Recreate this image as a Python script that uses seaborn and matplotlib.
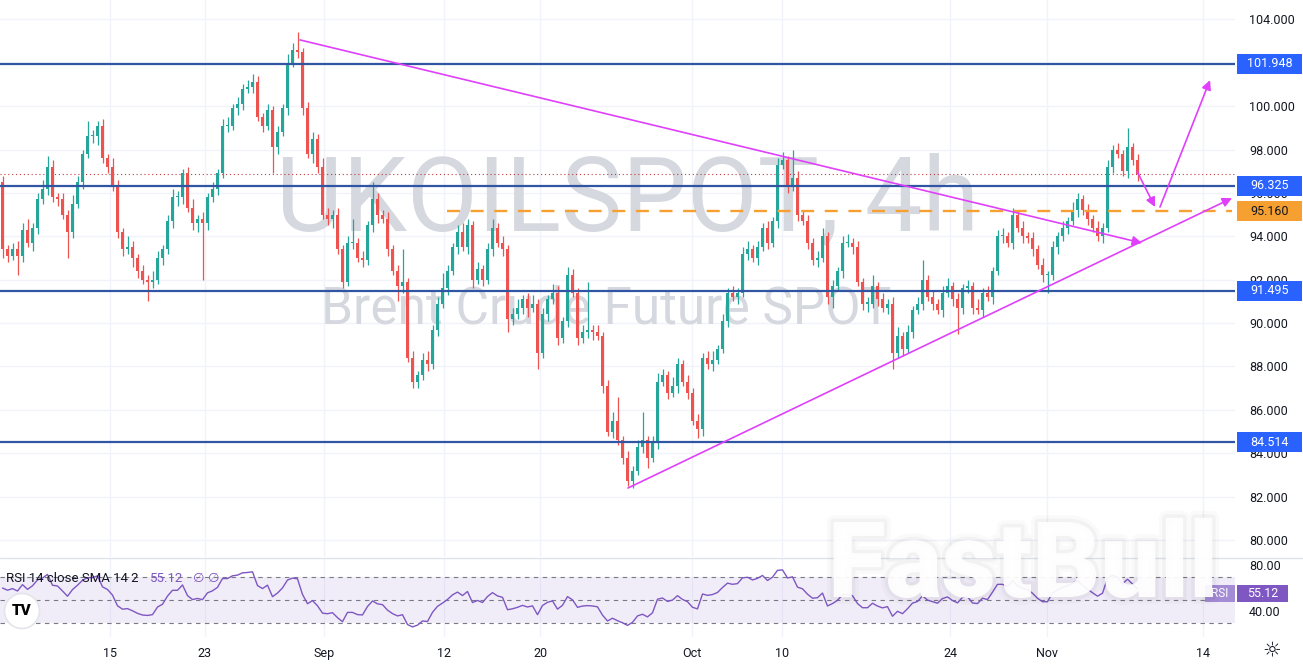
import matplotlib

matplotlib.use("Agg")
import matplotlib.patheffects as pe
import matplotlib.pyplot as plt
import numpy as np
import pandas as pd
import seaborn as sns
from matplotlib.lines import Line2D
from matplotlib.patches import Ellipse, Rectangle

FIG_W, FIG_H = 1303, 664

# --- datos (velas de ~4h, eje x = índice de vela) ---
first_open = 96.5
closes = [
    93.4, 93.1, 93.4, 93.1, 94.3, 93.7, 94.4, 95.7, 96.2, 97.2, 95.8, 95.7,
    95.0, 94.2, 95.5, 96.5, 97.8, 98.6, 98.6, 99.1, 97.6, 97.2, 96.3, 94.2,
    93.4, 93.5, 93.0, 92.4, 92.0, 91.9, 92.0, 93.0, 93.4, 94.7, 95.8, 95.8,
    96.9, 95.3, 94.6, 94.8, 94.6, 95.8, 96.2, 96.9, 99.1, 99.1, 99.9, 100.1,
    100.8, 100.9, 101.1, 99.5, 99.1, 99.8, 98.1, 98.8, 99.9, 102.0, 102.6, 102.5,
    99.9, 97.8, 98.5, 97.2, 95.0, 94.8, 95.0, 93.4, 91.9, 93.7, 93.7, 93.0,
    92.9, 94.5, 95.7, 95.0, 94.8, 93.4, 92.4, 91.7, 91.9, 88.4, 87.3, 87.6,
    88.3, 88.1, 89.7, 90.9, 91.6, 92.4, 93.5, 94.2, 93.5, 94.5, 92.0, 92.5,
    92.0, 93.4, 94.4, 93.7, 93.4, 90.2, 90.4, 90.7, 91.1, 90.7, 90.9, 88.6,
    90.4, 91.1, 91.4, 89.3, 90.1, 92.2, 91.4, 89.3, 89.6, 89.7, 89.6, 89.4,
    87.1, 85.0, 85.5, 84.6, 83.8, 82.7, 83.2, 84.3, 84.6, 83.8, 84.5, 87.3,
    87.6, 86.8, 87.1, 88.1, 87.3, 86.8, 85.5, 85.1, 88.4, 88.1, 88.3, 88.8,
    90.1, 91.4, 91.2, 91.4, 93.2, 93.4, 93.0, 93.5, 94.4, 93.7, 94.7, 97.3,
    97.5, 96.3, 96.7, 95.0, 94.7, 93.7, 92.9, 93.0, 94.0, 91.2, 91.7, 92.4,
    93.7, 93.7, 93.5, 91.9, 90.9, 90.9, 91.7, 91.1, 90.7, 90.9, 88.6, 89.4,
    88.8, 89.6, 90.6, 90.9, 92.0, 91.2, 90.9, 90.6, 91.4, 91.7, 91.1, 90.7,
    91.6, 91.7, 90.7, 90.6, 91.4, 91.2, 92.4, 94.0, 94.0, 93.7, 95.0, 94.4,
    94.0, 93.9, 93.4, 92.7, 92.2, 92.2, 93.5, 94.0, 94.4, 94.7, 95.2, 95.7,
    95.2, 94.8, 94.4, 94.0, 94.4, 97.2, 98.0, 97.8, 97.0, 98.1, 97.5, 96.85,
]
upper_wicks = [
    0.3, 0.2, 0.3, 0.4, 0.3, 0.5, 0.2, 0.3, 0.4, 0.5, 0.3, 0.2,
    0.3, 0.2, 0.4, 0.3, 0.2, 0.7, 0.3, 0.2, 0.3, 0.2, 0.4, 0.3,
    0.2, 0.5, 0.3, 0.2, 0.3, 0.2, 0.4, 0.3, 0.2, 0.3, 0.4, 0.3,
    0.2, 0.3, 0.4, 0.2, 0.3, 0.2, 0.3, 0.2, 0.3, 0.4, 0.2, 0.3,
    0.2, 0.3, 0.4, 0.3, 0.2, 0.3, 0.2, 0.3, 0.2, 0.4, 0.3, 0.8,
    0.2, 0.3, 0.3, 0.2, 0.4, 0.3, 0.2, 0.3, 0.2, 0.3, 1.1, 0.2,
    0.3, 0.2, 0.8, 0.3, 0.2, 0.3, 0.2, 0.3, 1.5, 0.2, 0.3, 0.2,
    0.3, 0.4, 0.2, 0.3, 0.7, 0.3, 0.2, 0.3, 0.4, 0.3, 0.2, 0.3,
    0.2, 0.3, 0.4, 0.2, 0.3, 0.2, 0.3, 0.4, 0.2, 0.3, 0.4, 0.2,
    0.3, 0.2, 0.4, 0.3, 0.2, 0.4, 0.3, 0.2, 0.3, 2.2, 0.2, 0.3,
    0.2, 0.3, 0.4, 1.1, 0.2, 0.3, 0.2, 0.3, 1.3, 0.2, 0.3, 0.4,
    0.3, 0.2, 0.4, 0.3, 0.2, 0.3, 0.2, 0.3, 0.2, 0.3, 0.4, 0.2,
    0.3, 0.2, 0.3, 0.2, 0.3, 0.4, 0.2, 0.3, 0.2, 0.3, 0.2, 0.3,
    0.4, 0.2, 1.3, 0.3, 0.2, 0.3, 0.2, 0.3, 0.4, 0.2, 0.3, 0.2,
    0.3, 0.4, 0.2, 0.3, 0.2, 0.3, 0.5, 0.2, 0.3, 0.2, 0.3, 0.4,
    0.2, 0.3, 0.2, 0.3, 0.9, 0.2, 0.3, 0.2, 0.3, 0.4, 0.2, 0.3,
    0.2, 0.3, 0.2, 0.4, 0.2, 0.3, 0.2, 0.3, 0.4, 0.2, 0.3, 0.2,
    0.3, 0.2, 0.3, 0.2, 0.3, 0.2, 0.3, 0.2, 0.3, 0.2, 0.4, 0.3,
    0.2, 0.3, 0.2, 0.3, 0.2, 0.3, 0.2, 0.3, 0.2, 0.9, 0.2, 0.3,
]
lower_wicks = [
    0.4, 0.3, 0.2, 0.9, 0.3, 0.2, 0.4, 0.3, 0.2, 0.3, 0.2, 0.3,
    0.2, 1.2, 0.3, 0.2, 0.3, 0.2, 0.3, 0.4, 0.2, 0.3, 0.2, 0.3,
    0.3, 0.2, 0.4, 0.3, 0.2, 0.9, 0.3, 0.2, 0.3, 0.2, 0.3, 0.4,
    0.3, 0.2, 0.3, 0.4, 2.6, 0.3, 0.2, 0.3, 0.2, 0.3, 0.2, 0.3,
    0.3, 0.2, 0.3, 0.2, 0.3, 0.2, 1.2, 0.3, 0.2, 0.3, 0.2, 0.3,
    0.3, 0.2, 0.4, 0.3, 0.2, 0.3, 0.4, 0.2, 0.3, 0.2, 0.3, 0.2,
    0.3, 0.2, 0.3, 0.4, 0.2, 0.3, 0.2, 0.7, 0.3, 0.2, 0.3, 0.3,
    0.2, 0.3, 0.2, 0.3, 0.2, 0.3, 0.2, 0.3, 0.2, 0.3, 0.4, 0.2,
    0.3, 0.2, 0.3, 0.2, 0.3, 0.6, 0.3, 0.2, 0.3, 0.4, 0.2, 0.7,
    0.2, 0.3, 0.2, 0.3, 0.2, 0.3, 0.2, 0.3, 0.2, 0.3, 0.4, 0.2,
    0.3, 0.2, 0.3, 0.2, 0.3, 0.2, 0.3, 0.2, 0.3, 0.5, 0.2, 0.3,
    0.2, 0.3, 0.2, 0.3, 0.2, 0.3, 0.2, 0.4, 0.3, 0.2, 0.3, 0.2,
    0.2, 0.3, 0.2, 0.3, 0.2, 0.3, 0.2, 0.3, 0.2, 0.3, 0.2, 0.3,
    0.2, 0.3, 0.2, 0.3, 0.2, 0.3, 0.2, 0.3, 0.2, 0.3, 0.5, 0.2,
    0.3, 0.2, 0.3, 0.2, 0.3, 0.4, 0.2, 0.3, 0.2, 0.3, 0.7, 0.2,
    0.3, 0.2, 0.3, 0.2, 0.3, 0.2, 0.3, 0.2, 0.3, 0.2, 0.3, 1.2,
    0.3, 0.2, 0.3, 0.2, 0.3, 0.2, 0.3, 0.2, 0.3, 0.2, 0.3, 0.2,
    0.3, 0.2, 0.3, 0.2, 0.3, 0.8, 0.2, 0.3, 0.2, 0.3, 0.2, 0.3,
    0.2, 0.3, 0.2, 0.2, 0.3, 0.2, 0.3, 0.2, 0.2, 0.3, 0.2, 0.3,
]

date_labels = ["15", "23", "Sep", "12", "20", "Oct", "10", "24", "Nov", "14"]
date_positions = [21.5, 40.5, 64.3, 88.3, 107.5, 137.9, 155.9, 189.5, 208.9, 240.1]

price_ticks = [80, 82, 84, 86, 88, 90, 92, 94, 96, 98, 100, 102, 104]
levels = [101.948, 96.325, 91.495, 84.514]
target_level = 95.160
target_span = [88.9, 245.9]

# líneas de tendencia y flechas dibujadas a mano (x en velas, y en precio)
down_trend = ([59.5, 227.9], [103.05, 93.69])
up_trend = ([125.1, 245.9], [82.40, 95.76])
pullback_arrow = ([226.9, 230.5], [97.0, 95.35])
breakout_arrow = ([231.5, 241.5], [95.35, 101.2])

rsi_ticks = [80, 40]
rsi_bands = [70, 50, 30]
rsi_label = "55.12"
RSI_LEN = 14

UP, DOWN = "#26a69a", "#ef5350"
LEVEL_LINE, LEVEL_BOX = "#2f55a3", "#2962ff"
ORANGE = "#f5a031"
MAGENTA = "#e040fb"
PURPLE = "#7e57c2"
TEXT = "#131722"
GRID = "#f0f3fa"

sns.set_theme(style="white")
plt.rcParams["font.family"] = ["Roboto", "DejaVu Sans"]
plt.rcParams["axes.unicode_minus"] = False

df = pd.DataFrame({"close": closes, "up": upper_wicks, "down": lower_wicks})
df["x"] = np.arange(len(df))
df["open"] = df["close"].shift(1).fillna(first_open)
body_top = df[["open", "close"]].max(axis=1)
body_bot = df[["open", "close"]].min(axis=1)
df["high"] = body_top + df["up"]
df["low"] = body_bot - df["down"]
colors = np.where(df["close"] >= df["open"], UP, DOWN)

# RSI 14 (media de Wilder, sembrada con la media de los primeros cambios)
chg = df["close"].diff().fillna(0).to_numpy()
gains, losses = np.clip(chg, 0, None), np.clip(-chg, 0, None)
avg_g, avg_l = gains[1:RSI_LEN + 1].mean(), losses[1:RSI_LEN + 1].mean()
rsi = []
for g, l in zip(gains, losses):
    avg_g = (avg_g * (RSI_LEN - 1) + g) / RSI_LEN
    avg_l = (avg_l * (RSI_LEN - 1) + l) / RSI_LEN
    rsi.append(100 - 100 / (1 + avg_g / avg_l))
df["rsi"] = rsi


def fpos(x, y):
    return x / FIG_W, 1 - y / FIG_H


fig = plt.figure(figsize=(FIG_W / 100, FIG_H / 100), dpi=100)
fig.patch.set_facecolor("white")
ax = fig.add_axes([0, 1 - 557 / FIG_H, 1235 / FIG_W, 557 / FIG_H])
ax_rsi = fig.add_axes([0, 1 - 637 / FIG_H, 1235 / FIG_W, 79 / FIG_H], sharex=ax)
x_px = 1235  # ancho del área de trazado en px

# --- panel de precio ---
ax.set_xlim(-0.5, 246.5)
ax.set_ylim(79.22, 104.89)
ax.set_xticks(date_positions)
ax.set_yticks(price_ticks)
ax.set_yticklabels([f"{p:.3f}" for p in price_ticks])
ax.yaxis.tick_right()
ax.tick_params(axis="x", length=0, labelbottom=False)
ax.tick_params(axis="y", length=0, pad=10, labelsize=9, labelcolor=TEXT)
ax.grid(True, color=GRID, lw=1)
for s in ax.spines.values():
    s.set_visible(False)

ax.text(276 / x_px, 1 - 230 / 557, "UKOILSPOT, 4h", transform=ax.transAxes,
        fontsize=74, color="#d6d8df", ha="left", va="baseline", zorder=0.6)
ax.text(321 / x_px, 1 - 324 / 557, "Brent Crude Future SPOT", transform=ax.transAxes,
        fontsize=37, color="#d6d8df", ha="left", va="baseline", zorder=0.6)

ax.vlines(df["x"], df["low"], df["high"], colors=colors, lw=0.9, zorder=3)
ax.bar(df["x"], (body_top - body_bot).clip(lower=0.05), bottom=body_bot,
       width=0.72, color=colors, linewidth=0, zorder=3)

for lv in levels:
    ax.axhline(lv, color=LEVEL_LINE, lw=1.6, zorder=4)
ax.hlines(target_level, *target_span, color=ORANGE, lw=1.7,
          linestyles=(0, (5.5, 4.5)), zorder=4)
ax.axhline(df["close"].iloc[-1], color="#c0393b", lw=0.8, ls=(0, (1, 2.5)), zorder=2)

for (xs, ys) in [down_trend, up_trend, pullback_arrow, breakout_arrow]:
    ax.annotate("", xy=(xs[1], ys[1]), xytext=(xs[0], ys[0]),
                arrowprops=dict(arrowstyle="-|>", color=MAGENTA, lw=1.2,
                                mutation_scale=14, shrinkA=0, shrinkB=0),
                zorder=5)

ytr = ax.get_yaxis_transform()
for lv in levels + [target_level]:
    face = ORANGE if lv == target_level else LEVEL_BOX
    fg = TEXT if lv == target_level else "white"
    ax.add_patch(Rectangle((1237 / x_px, lv - 0.46), 65 / x_px, 0.92, transform=ytr,
                           facecolor=face, edgecolor="none", clip_on=False, zorder=6))
    ax.text(1269.5 / x_px, lv, f"{lv:.3f}", transform=ytr, ha="center", va="center",
            color=fg, fontsize=9, clip_on=False, zorder=7)

# --- panel RSI ---
ax_rsi.axhspan(rsi_bands[-1], rsi_bands[0], color=PURPLE, alpha=0.1, lw=0, zorder=1)
for b in rsi_bands:
    ax_rsi.axhline(b, color="#787b86", lw=0.8, ls=(0, (4, 4)), zorder=2)
sns.lineplot(data=df, x="x", y="rsi", ax=ax_rsi, color=PURPLE, lw=1.0,
             legend=False, zorder=3)
ax_rsi.set_xlabel("")
ax_rsi.set_ylabel("")
ax_rsi.set_xlim(-0.5, 246.5)
ax_rsi.set_ylim(17.4, 86.1)
ax_rsi.set_xticks(date_positions)
ax_rsi.set_xticklabels(date_labels)
ax_rsi.yaxis.tick_right()
ax_rsi.set_yticks(rsi_ticks)
ax_rsi.set_yticklabels([f"{t:.2f}" for t in rsi_ticks])
ax_rsi.tick_params(axis="x", length=0, pad=7, labelsize=9, labelcolor=TEXT)
ax_rsi.tick_params(axis="y", length=0, pad=10, labelsize=9, labelcolor=TEXT)
ax_rsi.grid(True, axis="x", color=GRID, lw=1)
for s in ax_rsi.spines.values():
    s.set_visible(False)

rtr = ax_rsi.get_yaxis_transform()
rv = float(rsi_label)
ax_rsi.add_patch(Rectangle((1205 / x_px, rv - 7.5), 30 / x_px, 15, transform=rtr,
                           facecolor="#a48bd6", edgecolor="none", clip_on=False, zorder=6))
ax_rsi.text(1220 / x_px, rv, "RSI", transform=rtr, ha="center", va="center",
            color="white", fontsize=8.5, clip_on=False, zorder=7)
ax_rsi.add_patch(Rectangle((1237 / x_px, rv - 7.5), 51 / x_px, 15, transform=rtr,
                           facecolor=PURPLE, edgecolor="none", clip_on=False, zorder=6))
ax_rsi.text(1262.5 / x_px, rv, rsi_label, transform=rtr, ha="center", va="center",
            color="white", fontsize=9, clip_on=False, zorder=7)

# separador entre paneles
fig.add_artist(Line2D([0, 1], [1 - 557.5 / FIG_H] * 2, color="#e0e3eb", lw=1,
                      transform=fig.transFigure))

# leyenda del RSI
fig.text(*fpos(6, 578), "RSI 14 close SMA 14 2", fontsize=9.5, color=TEXT, va="center")
fig.text(*fpos(150, 578), rsi_label, fontsize=9.5, color=PURPLE, va="center")
fig.text(*fpos(193, 578), "\u2205", fontsize=9.5, color=PURPLE, va="center")
fig.text(*fpos(208, 578), "\u2205", fontsize=9.5, color=PURPLE, va="center")

# logo TradingView
fig.add_artist(Ellipse(fpos(22, 611), 35 / FIG_W, 35 / FIG_H, transform=fig.transFigure,
                       facecolor="white", edgecolor="#e3e5ea", lw=1.2, zorder=8))
fig.text(*fpos(22, 611), "TV", fontsize=11, fontweight="heavy", color="black",
         ha="center", va="center", zorder=9)

# icono de ajustes
fig.text(*fpos(1272, 651), "\u263c", fontsize=15, color=TEXT, ha="center", va="center")

# marca de agua FastBull
fig.text(*fpos(828, 597), "FastBull", fontsize=76, fontweight="heavy", color="white",
         alpha=0.92, ha="left", va="baseline", zorder=10,
         path_effects=[pe.Stroke(linewidth=10, foreground="black", alpha=0.02),
                       pe.Stroke(linewidth=5, foreground="black", alpha=0.03),
                       pe.Normal()])

fig.savefig("out.png", dpi=100)
